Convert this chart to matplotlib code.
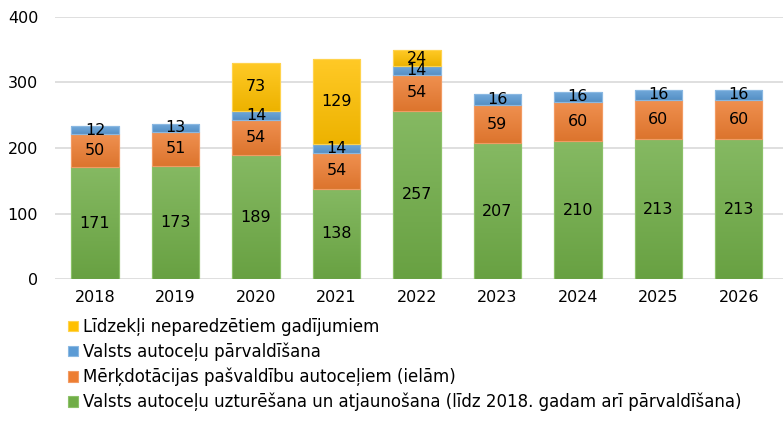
import matplotlib.pyplot as plt
import matplotlib.colors as mcolors
import numpy as np

years = ["2018", "2019", "2020", "2021", "2022", "2023", "2024", "2025", "2026"]
maintenance = [171, 173, 189, 138, 257, 207, 210, 213, 213]
subsidies = [50, 51, 54, 54, 54, 59, 60, 60, 60]
management = [12, 13, 14, 14, 14, 16, 16, 16, 16]
contingency = [0, 0, 73, 129, 24, 0, 0, 0, 0]

series_names = [
    "Valsts autoceļu uzturēšana un atjaunošana (līdz 2018. gadam arī pārvaldīšana)",
    "Mērķdotācijas pašvaldību autoceļiem (ielām)",
    "Valsts autoceļu pārvaldīšana",
    "Līdzekļi neparedzētiem gadījumiem",
]
colors = ["#70AD47", "#ED7D31", "#5B9BD5", "#FFC000"]
edge_colors = ["#8CC168", "#F29B63", "#8AB8E2", "#FFD34D"]


def _shade(col, f):
    # f > 0 mixes toward white, f < 0 toward black
    rgb = np.array(mcolors.to_rgb(col))
    if f >= 0:
        return rgb + (1 - rgb) * f
    return rgb * (1 + f)


def _gradient_fill(ax, patch, col):
    # Excel-like vertical gradient: lighter on top, darker at the bottom
    top = _shade(col, 0.15)
    bot = _shade(col, -0.07)
    t = np.linspace(0, 1, 64)[:, None]
    img = (top[None, :] * (1 - t) + bot[None, :] * t)[:, None, :]
    x0, y0 = patch.get_x(), patch.get_y()
    w, h = patch.get_width(), patch.get_height()
    im = ax.imshow(img, extent=[x0, x0 + w, y0, y0 + h], origin="upper",
                   aspect="auto", interpolation="bilinear", zorder=3)
    im.set_clip_path(patch)


plt.rcParams["font.family"] = ["DejaVu Sans"]

fig = plt.figure(figsize=(7.83, 4.21), dpi=100)
ax = fig.add_axes([0.07, 0.337, 0.93, 0.623])

x = np.arange(len(years))
bottom = np.zeros(len(years))
handles = []
for vals, name, col, ec in zip(
    [maintenance, subsidies, management, contingency], series_names, colors, edge_colors
):
    vals = np.array(vals, dtype=float)
    shown = vals > 0
    bars = ax.bar(x[shown], vals[shown], 0.59, bottom=bottom[shown], color=col,
                  edgecolor=ec, linewidth=0.8, label=name, zorder=3)
    handles.append(bars)
    for patch in bars:
        _gradient_fill(ax, patch, col)
        # redraw the thin outline on top of the gradient
        ax.add_patch(plt.Rectangle((patch.get_x(), patch.get_y()), patch.get_width(),
                                   patch.get_height(), fill=False, edgecolor=ec,
                                   linewidth=0.8, zorder=3.5))
    for xi, b, v in zip(x, bottom, vals):
        if v > 0:
            ax.text(xi, b + v / 2, f"{int(v)}", ha="center", va="center",
                    fontsize=11.5, color="black", zorder=4)
    bottom += vals

ax.set_xlim(-0.5, 8.55)
ax.set_ylim(0, 400)
ax.set_yticks([0, 100, 200, 300, 400])
ax.set_xticks(x)
ax.set_xticklabels(years)
ax.tick_params(axis="both", length=0, labelsize=11.5, colors="black")
ax.tick_params(axis="x", pad=8)
ax.tick_params(axis="y", pad=12)
ax.grid(axis="y", color="#D9D9D9", linewidth=1.2, zorder=0)
for s in ax.spines.values():
    s.set_visible(False)

leg = fig.legend(
    handles[::-1], series_names[::-1],
    loc="upper left", bbox_to_anchor=(0.087, 0.245),
    frameon=False, fontsize=12, handlelength=0.6, handleheight=0.6,
    handletextpad=0.3, labelspacing=0.4, borderaxespad=0, borderpad=0,
)

fig.savefig("out.png", dpi=100)
